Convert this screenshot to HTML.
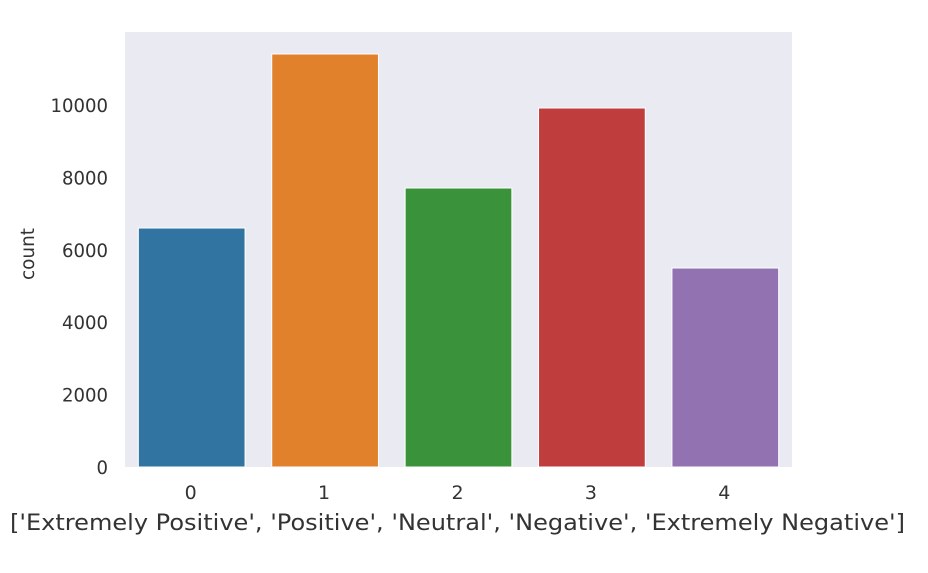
<!DOCTYPE html>
<html><head><meta charset="utf-8"><style>
html,body{margin:0;padding:0;background:#fff;}
svg{display:block;font-family:"DejaVu Sans","Liberation Sans",sans-serif;}
</style></head><body>
<svg id="chart" width="928" height="573" viewBox="0 0 928 573">
<rect x="125" y="32" width="667" height="435" fill="#eaeaf2"/>
<g id="bars"></g>
<g id="yticks"></g>
<g id="xticks"></g>
<text x="34" y="254" font-size="19" fill="#333" text-anchor="middle" textLength="52" lengthAdjust="spacingAndGlyphs" transform="rotate(-90 34 254)">count</text>
<text x="10" y="530" font-size="22" fill="#333" textLength="895" lengthAdjust="spacingAndGlyphs">['Extremely Positive', 'Positive', 'Neutral', 'Negative', 'Extremely Negative']</text>
</svg>
<script>
const categories = ["0","1","2","3","4"];
const counts = [6602, 11409, 7707, 9917, 5497];
const colors = ["#3274a1","#e1812c","#3a923a","#c03d3e","#9372b2"];
const yTicks = [0, 2000, 4000, 6000, 8000, 10000];

const NS = "http://www.w3.org/2000/svg";
const plotL = 125, plotR = 792, plotB = 467;
const pxPerUnit = (467 - 105) / 10000;
const y = v => plotB - v * pxPerUnit;
const band = (plotR - plotL) / categories.length;
const xc = i => plotL + band * (i + 0.5);
const barW = band * 0.8;

const bars = document.getElementById("bars");
counts.forEach((v, i) => {
  const r = document.createElementNS(NS, "rect");
  r.setAttribute("x", xc(i) - barW / 2);
  r.setAttribute("y", y(v));
  r.setAttribute("width", barW);
  r.setAttribute("height", plotB - y(v));
  r.setAttribute("fill", colors[i]);
  r.setAttribute("stroke", "#fff");
  r.setAttribute("stroke-width", "1");
  
  
  bars.appendChild(r);
});

const yg = document.getElementById("yticks");
yTicks.forEach(t => {
  const tx = document.createElementNS(NS, "text");
  const s = String(t);
  tx.setAttribute("x", 108);
  tx.setAttribute("y", y(t) + 7);
  tx.setAttribute("text-anchor", "end");
  tx.setAttribute("font-size", "19");
  tx.setAttribute("fill", "#333");
  tx.setAttribute("textLength", s.length * 11.5);
  tx.setAttribute("lengthAdjust", "spacingAndGlyphs");
  tx.textContent = s;
  
  
  yg.appendChild(tx);
});

const xg = document.getElementById("xticks");
categories.forEach((c, i) => {
  const tx = document.createElementNS(NS, "text");
  tx.setAttribute("x", xc(i) - 1);
  tx.setAttribute("y", 499);
  tx.setAttribute("text-anchor", "middle");
  tx.setAttribute("font-size", "19");
  tx.setAttribute("fill", "#333");
  tx.textContent = c;
  
  
  xg.appendChild(tx);
});
</script>
</body></html>
